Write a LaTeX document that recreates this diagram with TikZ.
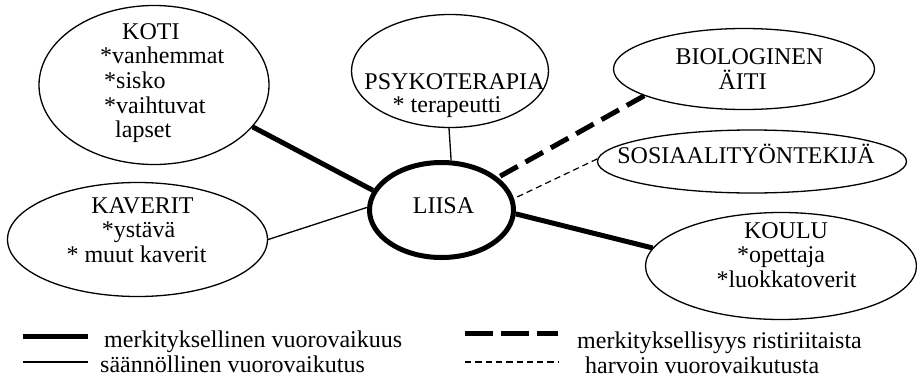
\documentclass[tikz,border=0pt]{standalone}
\usepackage{fontspec}
\setmainfont{Liberation Serif}
\usetikzlibrary{shapes.geometric}
\begin{document}
\begin{tikzpicture}[x=1pt,y=-1pt,
  bubble/.style={draw, ellipse, line width=1.3pt, inner sep=0pt},
  centre/.style={draw, ellipse, line width=5pt, inner sep=0pt},
  txt/.style={inner sep=0pt, font=\fontsize{24}{29}\selectfont},
  lefttxt/.style={txt, anchor=base west},
  midtxt/.style={txt, anchor=base},
  strong/.style={line width=5pt},
  regular/.style={line width=1.3pt},
  conflict/.style={line width=5pt, dash pattern=on 20pt off 9pt},
  rare/.style={line width=1.2pt, dash pattern=on 6.3pt off 4pt}]
\useasboundingbox (0,0) rectangle (917,383);

% network bubbles
\node[bubble, minimum width=230, minimum height=159] (koti) at (154,85) {};
\node[bubble, minimum width=197, minimum height=113] (psyko) at (450,71) {};
\node[bubble, minimum width=261, minimum height=81] (bio) at (744,69) {};
\node[bubble, minimum width=309, minimum height=63] (sos) at (752,161.5) {};
\node[bubble, minimum width=260, minimum height=114] (kaverit) at (137.5,239.5) {};
\node[bubble, minimum width=271, minimum height=107] (koulu) at (781,266) {};
\node[centre, minimum width=144, minimum height=95] (liisa) at (441.5,210) {};

% labels inside the bubbles
\node[lefttxt] (kotiA) at (122,39) {KOTI};
\node[lefttxt] (kotiB) at (100,63) {*vanhemmat};
\node[lefttxt] (kotiC) at (104,88) {*sisko};
\node[lefttxt] (kotiD) at (104,113) {*vaihtuvat};
\node[lefttxt] (kotiE) at (115,137) {lapset};

\node[midtxt] (psykoA) at (454.5,89) {PSYKOTERAPIA};
\node[midtxt] (psykoB) at (447,112) {* terapeutti};

\node[midtxt] (bioA) at (749.5,64) {BIOLOGINEN};
\node[midtxt] (bioB) at (742.5,89) {ÄITI};

\node[midtxt] (sosA) at (746,163) {SOSIAALITYÖNTEKIJÄ};

\node[midtxt] (kavA) at (142.5,213) {KAVERIT};
\node[midtxt] (kavB) at (138.5,237) {*ystävä};
\node[midtxt] (kavC) at (136.5,262) {* muut kaverit};

\node[midtxt] (liisaA) at (443.5,213) {LIISA};

\node[midtxt] (kouluA) at (786,238) {KOULU};
\node[midtxt] (kouluB) at (781,262) {*opettaja};
\node[midtxt] (kouluC) at (786.5,287) {*luokkatoverit};

% connectors
\draw[strong] (koti.-23) -- (liisa.164);
\draw[regular] (psyko.-91) -- (liisa.79);
\draw[conflict] (bio.195) -- (liisa.30);
\draw[rare] (sos.179.4) -- (liisa.9);
\draw[regular] (kaverit.0) -- (liisa.178.5);
\draw[strong] (liisa.-3) -- (koulu.172);

% legend
\coordinate (k1a) at (23,336);  \coordinate (k1b) at (88,336);
\coordinate (k2a) at (23,362);  \coordinate (k2b) at (88,362);
\coordinate (k3a) at (465,333); \coordinate (k3b) at (558,333);
\coordinate (k4a) at (465,362); \coordinate (k4b) at (558,362);
\draw[strong] (k1a) -- (k1b);
\draw[regular] (k2a) -- (k2b);
\draw[line width=5pt, dash pattern=on 28pt off 8pt] (k3a) -- (k3b);
\draw[rare] (k4a) -- (k4b);
\node[lefttxt] (k1t) at (104,347) {merkityksellinen vuorovaikuus};
\node[lefttxt] (k2t) at (100,372) {säännöllinen vuorovaikutus};
\node[lefttxt] (k3t) at (577,348) {merkityksellisyys ristiriitaista};
\node[lefttxt] (k4t) at (585,373) {harvoin vuorovaikutusta};
\end{tikzpicture}
\end{document}
